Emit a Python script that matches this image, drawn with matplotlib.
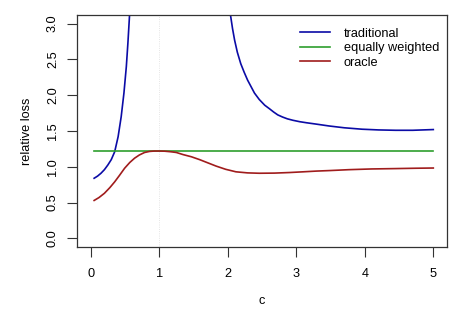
import numpy as np
import matplotlib
matplotlib.use("Agg")
import matplotlib.pyplot as plt

plt.rcParams['font.family'] = ['Liberation Sans', 'DejaVu Sans']

# traditional: two branches (blows up between them)
trad_c1 = [0.05, 0.10, 0.15, 0.20, 0.25, 0.30, 0.35, 0.40, 0.445, 0.485, 0.52, 0.543, 0.567]
trad_y1 = [0.84, 0.87, 0.91, 0.96, 1.025, 1.10, 1.21, 1.42, 1.70, 2.03, 2.40, 2.73, 3.12]
trad_c2 = [2.04, 2.07, 2.10, 2.14, 2.19, 2.24, 2.29, 2.34, 2.39, 2.46, 2.54, 2.61, 2.67, 2.73, 2.80, 2.87, 2.95,
           3.05, 3.15, 3.30, 3.48, 3.70, 3.96, 4.20, 4.45, 4.70, 5.00]
trad_y2 = [3.12, 2.93, 2.77, 2.60, 2.44, 2.32, 2.21, 2.12, 2.03, 1.94, 1.86, 1.81, 1.765, 1.725, 1.695, 1.67, 1.65,
           1.63, 1.615, 1.595, 1.57, 1.545, 1.525, 1.515, 1.51, 1.51, 1.52]

equal_c = [0.05, 5.0]
equal_y = [1.22, 1.22]

oracle_c = [0.05, 0.12, 0.20, 0.28, 0.35, 0.42, 0.495, 0.57, 0.64, 0.71, 0.786, 0.86, 0.93, 1.00, 1.08, 1.17, 1.25,
            1.35, 1.47, 1.59, 1.71, 1.83, 1.97, 2.12, 2.29, 2.46, 2.68, 2.90, 3.10, 3.29, 3.50, 3.77, 4.10, 4.45, 4.75, 5.00]
oracle_y = [0.53, 0.57, 0.63, 0.71, 0.79, 0.88, 0.98, 1.06, 1.12, 1.165, 1.20, 1.215, 1.22, 1.22, 1.218, 1.21, 1.20,
            1.17, 1.14, 1.10, 1.055, 1.01, 0.965, 0.93, 0.915, 0.91, 0.912, 0.92, 0.93, 0.94, 0.948, 0.96, 0.97, 0.975, 0.98, 0.983]

fs = 9.2

fig = plt.figure(figsize=(4.63, 3.09), dpi=100)
ax = fig.add_axes([77/463, 1-247/309, 370/463, 232/309])

ax.axvline(1, color='#dddddd', lw=0.6, ls=':', zorder=0)
ax.plot(trad_c1, trad_y1, color='#0b0ba6', lw=1.2)
l1, = ax.plot(trad_c2, trad_y2, color='#0b0ba6', lw=1.2)
l2, = ax.plot(equal_c, equal_y, color='#2e9e2e', lw=1.2)
l3, = ax.plot(oracle_c, oracle_y, color='#a01c1c', lw=1.2)

ax.set_xlim(-0.2, 5.2)
ax.set_ylim(-0.12, 3.12)
ax.set_xticks(range(6))
ax.set_yticks(np.arange(0, 3.01, 0.5))
ax.set_yticklabels(['0.0', '0.5', '1.0', '1.5', '2.0', '2.5', '3.0'], rotation=90, va='center')
ax.tick_params(length=7, width=0.8, color='#333333', labelsize=fs, pad=6)
ax.tick_params(axis='x', pad=8)
for s in ax.spines.values():
    s.set_linewidth(0.9)
    s.set_color('#333333')

ax.set_xlabel('c', fontsize=fs, labelpad=11)
ax.set_ylabel('relative loss', fontsize=fs, labelpad=10)

ax.legend([l1, l2, l3], ['traditional', 'equally weighted', 'oracle'], frameon=False,
          fontsize=fs, loc='upper right', bbox_to_anchor=(1.01, 0.995), handlelength=2.3,
          handletextpad=1.1, labelspacing=0.2)

fig.savefig('out.png', dpi=100)
